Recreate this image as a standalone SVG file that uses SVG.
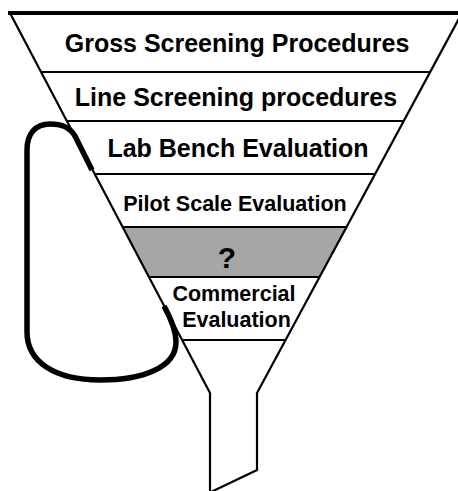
<svg xmlns="http://www.w3.org/2000/svg" width="458" height="491" viewBox="0 0 458 491">
<style>
.band{fill:#fff;stroke:none}
.gray{fill:#a6a6a6;stroke:none}
.sep{stroke:#000;stroke-width:2;fill:none}
.edge{stroke:#000;stroke-width:2.2;fill:none;stroke-linejoin:miter}
.t{font-family:"Liberation Sans",Arial,sans-serif;font-weight:bold;fill:#000;text-anchor:middle}
.big{font-size:25px}
.mid{font-size:21.5px}
.loop{stroke:#000;stroke-width:5.5;fill:none;stroke-linecap:butt}
</style>
<rect width="458" height="491" fill="#fff"/>
<g id="gross">
<polygon class="band" points="10,13 462,13 430.2,72 41,72"/>
<text class="t big" x="237" y="52">Gross Screening Procedures</text>
</g>
<g id="line">
<polygon class="band" points="41,72 430.2,72 403.8,121 66.8,121"/>
<line class="sep" x1="41" y1="72" x2="430.2" y2="72"/>
<text class="t big" x="236" y="106">Line Screening procedures</text>
</g>
<g id="lab">
<polygon class="band" points="66.8,121 403.8,121 375.2,174 94.7,174"/>
<line class="sep" x1="66.8" y1="121" x2="403.8" y2="121"/>
<text class="t big" x="238" y="157">Lab Bench Evaluation</text>
</g>
<g id="pilot">
<polygon class="band" points="94.7,174 375.2,174 346.7,227 122.6,227"/>
<line class="sep" x1="94.7" y1="174" x2="375.2" y2="174"/>
<text class="t mid" x="235" y="211">Pilot Scale Evaluation</text>
</g>
<g id="unknown">
<polygon class="gray" points="122.6,227 346.7,227 319.7,277 148.9,277"/>
<line class="sep" x1="122.6" y1="227" x2="346.7" y2="227"/>
<text class="t" x="227" y="268" font-size="30">?</text>
</g>
<g id="commercial">
<polygon class="band" points="148.9,277 319.7,277 285.7,340 182,340"/>
<line class="sep" x1="148.9" y1="277" x2="319.7" y2="277"/>
<line class="sep" x1="182" y1="340" x2="285.7" y2="340"/>
<text class="t mid" x="234" y="301">Commercial</text>
<text class="t mid" x="236.5" y="327">Evaluation</text>
</g>
<g id="funnel">
<line x1="8" y1="13" x2="460" y2="13" stroke="#000" stroke-width="4"/>
<polyline class="edge" points="10,13 210,393 210,492"/>
<polyline class="edge" points="462,13 257,393 257,470 211,492"/>
</g>
<g id="connectors">
<path class="loop" d="M 92,170 L 75,136 C 69,126 60,124 50,124 C 35,124 27,134 27,150 L 27,332 C 27,362 55,380 100,380 C 142,380 176,368 176,342 C 176,330 170,317 164,306"/>
</g>
</svg>
